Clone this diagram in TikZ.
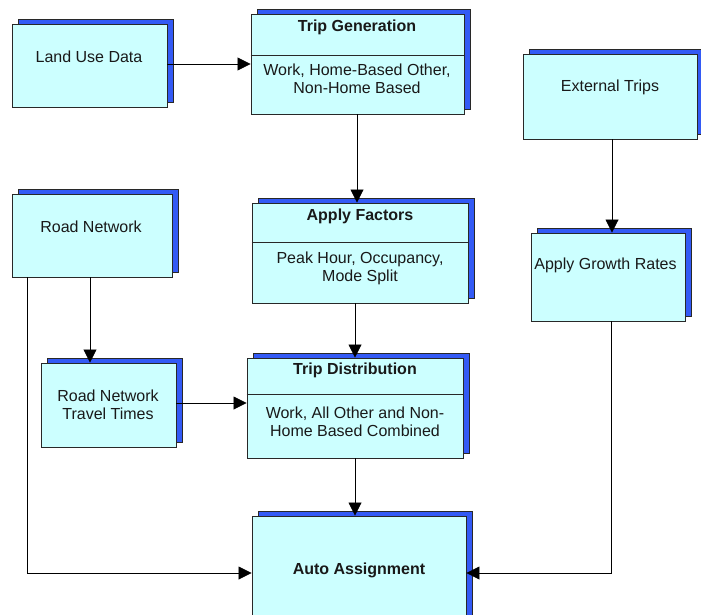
\documentclass[tikz,border=0pt]{standalone}
\usepackage{fontspec}
\setmainfont{Liberation Sans}
\usetikzlibrary{shadows,arrows.meta}
\definecolor{boxfill}{RGB}{204,255,255}
\definecolor{shblue}{RGB}{51,90,245}
\definecolor{edge}{RGB}{40,40,40}
\tikzset{
  box/.style={draw=edge, line width=0.9pt, fill=boxfill, inner sep=0pt,
    copy shadow={shadow xshift=6pt, shadow yshift=5pt, fill=shblue, draw=edge, line width=0.9pt}},
  txt/.style={font=\fontsize{16}{18}\selectfont, align=center, inner sep=0pt, text=black!90},
  ttl/.style={font=\fontsize{16}{18}\selectfont\bfseries, align=center, inner sep=0pt, text=black!90},
  divider/.style={draw=edge, line width=0.9pt},
  arr/.style={draw=black, line width=0.8pt, -{Triangle[length=13pt,width=13pt]}},
  conn/.style={draw=black, line width=0.8pt}
}
\begin{document}
\begin{tikzpicture}[x=1pt,y=-1pt]
\useasboundingbox (0,0) rectangle (701,615);
% boxes
\node[box, minimum width=155pt, minimum height=83pt] (lud) at (89.5,65.5) {};
\node[box, minimum width=213pt, minimum height=100pt] (tg) at (357.5,64) {};
\node[box, minimum width=174pt, minimum height=85pt] (et) at (610,96.5) {};
\node[box, minimum width=160pt, minimum height=83pt] (rn) at (92,235.5) {};
\node[box, minimum width=216pt, minimum height=100pt] (af) at (360,253) {};
\node[box, minimum width=154pt, minimum height=88pt] (agr) at (608,277) {};
\node[box, minimum width=135pt, minimum height=84pt] (rntt) at (108.5,405) {};
\node[box, minimum width=216pt, minimum height=100pt] (td) at (355,408) {};
\node[box, minimum width=214pt, minimum height=114pt] (aa) at (359,573) {};
% dividers
\draw[divider] (tg.west |- 0,55) -- (tg.east |- 0,55);
\draw[divider] (af.west |- 0,242) -- (af.east |- 0,242);
\draw[divider] (td.west |- 0,394) -- (td.east |- 0,394);
% texts
\node[txt] (lud-t) at (89,57) {Land Use Data};
\node[ttl] (tg-t) at (357,27) {Trip Generation};
\node[txt] (tg-b) at (357,79) {Work, Home-Based Other,\\Non-Home Based};
\node[txt] (et-t) at (610,87) {External Trips};
\node[txt] (rn-t) at (91,227) {Road Network};
\node[ttl] (af-t) at (360,216) {Apply Factors};
\node[txt] (af-b) at (360,268) {Peak Hour, Occupancy,\\Mode Split};
\node[txt] (agr-t) at (605.5,265) {Apply Growth Rates};
\node[txt] (rntt-t) at (108,405) {Road Network\\Travel Times};
\node[ttl] (td-t) at (355,370) {Trip Distribution};
\node[txt] (td-b) at (355,422) {Work, All Other and Non-\\Home Based Combined};
\node[ttl] (aa-t) at (359,570) {Auto Assignment};
% connectors
\draw[arr] (lud.east |- 0,64) -- (tg.west |- 0,64);
\draw[arr] (tg.south -| 357,0) -- (af.north -| 357,0);
\draw[arr] (af.south -| 355,0) -- (td.north -| 355,0);
\draw[arr] (td.south -| 355,0) -- (aa.north -| 355,0);
\draw[arr] (rn.south -| 90,0) -- (rntt.north -| 90,0);
\draw[arr] (rntt.east |- 0,403) -- (td.west |- 0,403);
\draw[arr] (rn.south -| 27,0) |- (aa.west |- 0,573);
\draw[arr] (et.south -| 612,0) -- (agr.north -| 612,0);
\draw[arr] (agr.south -| 611,0) |- (aa.east |- 0,573);
\end{tikzpicture}
\end{document}
